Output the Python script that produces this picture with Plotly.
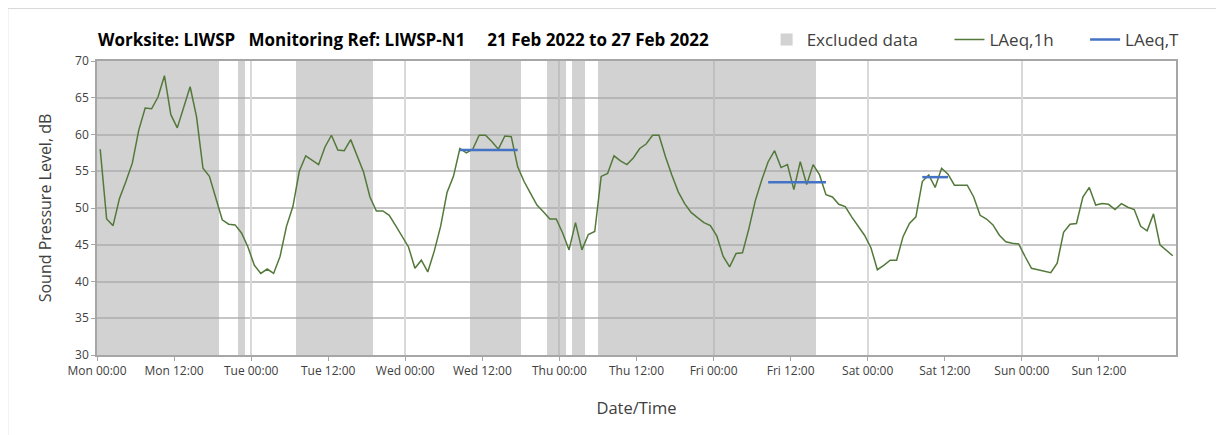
import plotly.graph_objects as go

# ---- data ----
hours = list(range(168))  # hourly periods from Mon 00:00
laeq_1h = [
    58.0, 48.5, 47.6, 51.3, 53.6, 56.1, 60.6, 63.6, 63.5, 65.1, 68.0, 62.7,
    60.9, 63.8, 66.5, 62.4, 55.4, 54.3, 51.5, 48.4, 47.8, 47.7, 46.6, 44.7,
    42.2, 41.1, 41.7, 41.1, 43.4, 47.5, 50.2, 55.0, 57.1, 56.5, 55.9, 58.3,
    59.9, 57.9, 57.8, 59.3, 57.0, 54.9, 51.5, 49.6, 49.6, 49.0, 47.6, 46.1,
    44.7, 41.8, 42.9, 41.3, 44.1, 47.5, 52.1, 54.3, 58.1, 57.5, 58.0, 59.9,
    59.9, 59.0, 58.0, 59.8, 59.7, 55.6, 53.6, 52.0, 50.4, 49.5, 48.5, 48.5,
    46.6, 44.3, 48.0, 44.3, 46.4, 46.8, 54.3, 54.7, 57.1, 56.4, 55.9, 56.8,
    58.1, 58.7, 59.9, 59.9, 57.0, 54.5, 52.2, 50.6, 49.4, 48.7, 48.0, 47.6,
    46.2, 43.4, 42.0, 43.8, 43.9, 47.2, 51.0, 53.8, 56.3, 57.8, 55.5, 55.9,
    52.5, 56.3, 53.2, 55.9, 54.5, 51.8, 51.5, 50.5, 50.2, 48.8, 47.5, 46.3,
    44.6, 41.6, 42.2, 42.9, 42.9, 46.1, 47.9, 48.8, 53.6, 54.5, 52.8, 55.4,
    54.6, 53.1, 53.1, 53.1, 51.5, 49.0, 48.5, 47.7, 46.3, 45.4, 45.2, 45.1,
    43.4, 41.8, 41.6, 41.4, 41.2, 42.5, 46.7, 47.8, 47.9, 51.5, 52.8, 50.4,
    50.6, 50.5, 49.8, 50.6, 50.1, 49.8, 47.5, 46.9, 49.2, 45.0, 44.2, 43.5,
]

excl_start = [0, 22, 31, 58, 70, 74, 78]      # hours from Mon 00:00
excl_end = [19, 23, 43, 66, 73, 76, 112]

laeqT_start = [56, 104, 128]                  # first hourly period of each LAeq,T
laeqT_end = [65, 113, 132]                    # last hourly period
laeqT_val = [57.9, 53.5, 54.2]

tick_hours = list(range(0, 168, 12))
tick_labels = ["Mon 00:00", "Mon 12:00", "Tue 00:00", "Tue 12:00",
               "Wed 00:00", "Wed 12:00", "Thu 00:00", "Thu 12:00",
               "Fri 00:00", "Fri 12:00", "Sat 00:00", "Sat 12:00",
               "Sun 00:00", "Sun 12:00"]
grid_hours = list(range(0, 169, 24))

y_min, y_max = 30, 70

FONT = "Open Sans"
NB = "\u00a0"
# ---- figure ----
fig = go.Figure()

fig.add_trace(go.Bar(
    x=[(s + e) / 2 for s, e in zip(excl_start, excl_end)],
    y=[y_max - y_min] * len(excl_start),
    base=y_min,
    width=[e - s for s, e in zip(excl_start, excl_end)],
    marker=dict(color="rgba(166,166,166,0.5)", line=dict(width=0)),
    name="Excluded data" + NB * 6,
    hoverinfo="skip",
))

fig.add_trace(go.Scatter(
    x=[h + 0.5 for h in hours], y=laeq_1h, mode="lines",
    line=dict(color="#53793A", width=1.5), name="LAeq,1h" + NB * 6,
))

tx, ty = [], []
for s, e, v in zip(laeqT_start, laeqT_end, laeqT_val):
    tx += [s + 0.5, e + 0.5, None]
    ty += [v, v, None]
fig.add_trace(go.Scatter(
    x=tx, y=ty, mode="lines",
    line=dict(color="#4472C4", width=2.5), name="LAeq,T",
))

# empty trace carrying the daily gridlines on an overlay axis
fig.add_trace(go.Scatter(x=[0, 168], y=[None, None], xaxis="x2",
                         showlegend=False, hoverinfo="skip"))

W, H = 1216, 427
fig.update_layout(
    width=W, height=H,
    margin=dict(l=89, r=48, t=53, b=80),
    paper_bgcolor="white", plot_bgcolor="white",
    font=dict(family=FONT, color="#404040"),
    bargap=0,
    title=dict(
        text="Worksite: LIWSP" + NB * 3 + "Monitoring Ref: LIWSP-N1" + NB * 5
             + "21 Feb 2022 to 27 Feb 2022",
        x=90 / W, xanchor="left", xref="container",
        y=1 - 32 / H, yanchor="middle",
        font=dict(family=FONT, size=17, color="#000000", weight="bold"),
    ),
    legend=dict(
        orientation="h", x=1.008, xanchor="right", y=1.0714, yanchor="middle",
        font=dict(family=FONT, size=17, color="#404040"),
        bgcolor="rgba(0,0,0,0)", itemwidth=30,
    ),
    showlegend=True,
    xaxis=dict(
        range=[0, 168], tickmode="array", tickvals=tick_hours, ticktext=tick_labels,
        showgrid=False, zeroline=False,
        showline=True, linecolor="#A6A6A6", linewidth=1.5, mirror=True,
        ticks="outside", ticklen=4, tickcolor="#A6A6A6",
        tickfont=dict(family=FONT, size=12, color="#404040"),
        title=dict(text="Date/Time", font=dict(family=FONT, size=16.5, color="#404040"),
                   standoff=24),
    ),
    xaxis2=dict(
        range=[0, 168], overlaying="x", tickmode="array", tickvals=grid_hours,
        showgrid=True, gridcolor="#D9D9D9", gridwidth=1.5,
        showticklabels=False, ticks="", zeroline=False, showline=False,
    ),
    yaxis=dict(
        range=[y_min, y_max], dtick=5, showgrid=True, gridcolor="#C6C6C6", gridwidth=1.5,
        zeroline=False, showline=True, linecolor="#A6A6A6", linewidth=1.5, mirror=True,
        ticks="outside", ticklen=4, tickcolor="#A6A6A6",
        tickfont=dict(family=FONT, size=12, color="#404040"),
        title=dict(text="Sound Pressure Level, dB",
                   font=dict(family=FONT, size=16, color="#404040"), standoff=20),
    ),
    shapes=[dict(type="rect", xref="paper", yref="paper",
                 x0=-88.5 / 1071, x1=1.2, y0=-0.5, y1=(294 + 52.5) / 294,
                 line=dict(color="#D9D9D9", width=1), fillcolor="rgba(0,0,0,0)",
                 layer="below")],
)

fig.write_html("out.html")
